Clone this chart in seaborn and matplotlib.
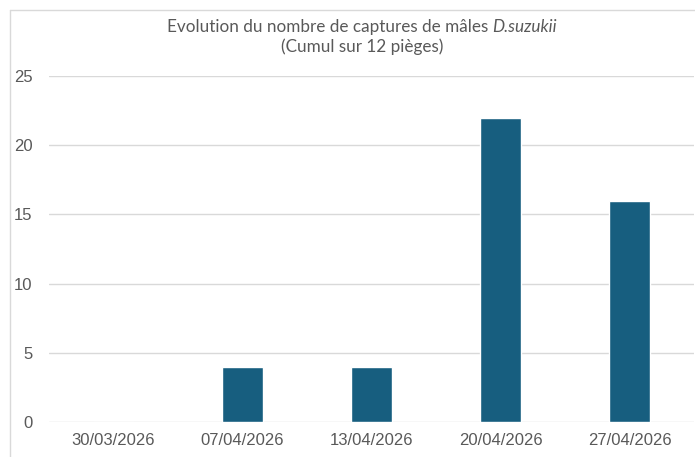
import matplotlib
matplotlib.use("Agg")
import matplotlib.pyplot as plt
import seaborn as sns
import pandas as pd
from matplotlib.lines import Line2D

dates = ["30/03/2026", "07/04/2026", "13/04/2026", "20/04/2026", "27/04/2026"]
captures = [0, 4, 4, 22, 16]
yticks = [0, 5, 10, 15, 20, 25]

df = pd.DataFrame({"date": dates, "captures": captures})

sns.set_theme(style="white")
plt.rcParams["font.family"] = "sans-serif"
plt.rcParams["font.sans-serif"] = ["Liberation Sans", "DejaVu Sans"]

grey = "#595959"
fig = plt.figure(figsize=(6.95, 4.57), dpi=100)
W, H = 695, 457
ax = fig.add_axes([49 / W, 1 - 422 / H, 645 / W, 346 / H])

sns.barplot(data=df, x="date", y="captures", order=dates, color="#175E7F",
            saturation=1, width=0.325, ax=ax, zorder=3)

ax.set_ylim(0, 25)
ax.set_yticks(yticks)
ax.yaxis.grid(True, color="#D9D9D9", linewidth=1, zorder=0)
ax.set_axisbelow(True)
for s in ax.spines.values():
    s.set_visible(False)
ax.set_xlabel("")
ax.set_ylabel("")
ax.tick_params(axis="both", length=0, labelsize=12, colors=grey)
ax.tick_params(axis="x", pad=8)
ax.tick_params(axis="y", pad=12)
for lab in ax.get_xticklabels() + ax.get_yticklabels():
    lab.set_fontfamily("Liberation Sans")

# title: normal part + italic species name, centred together
tsize = 12.3
renderer = fig.canvas.get_renderer()
t1 = fig.text(0, 1 - 27 / H, "Evolution du nombre de captures de mâles ",
              ha="left", va="center", fontsize=tsize, color=grey, family="Lato")
t2 = fig.text(0, 1 - 27 / H, "D.suzukii", ha="left", va="center",
              fontsize=tsize, color=grey, family="Lato", style="italic")
w1 = t1.get_window_extent(renderer).width
w2 = t2.get_window_extent(renderer).width
x0 = 362 - (w1 + w2) / 2
t1.set_x(x0 / W)
t2.set_x((x0 + w1) / W)
fig.text(362 / W, 1 - 47 / H, "(Cumul sur 12 pièges)",
         ha="center", va="center", fontsize=tsize, color=grey, family="Lato")

# chart frame
fig.add_artist(Line2D([10 / W, 10 / W], [0, 1 - 10 / H], transform=fig.transFigure,
                      color="#D9D9D9", linewidth=1))
fig.add_artist(Line2D([10 / W, 1], [1 - 10 / H, 1 - 10 / H], transform=fig.transFigure,
                      color="#D9D9D9", linewidth=1))

fig.savefig("out.png", dpi=100)
